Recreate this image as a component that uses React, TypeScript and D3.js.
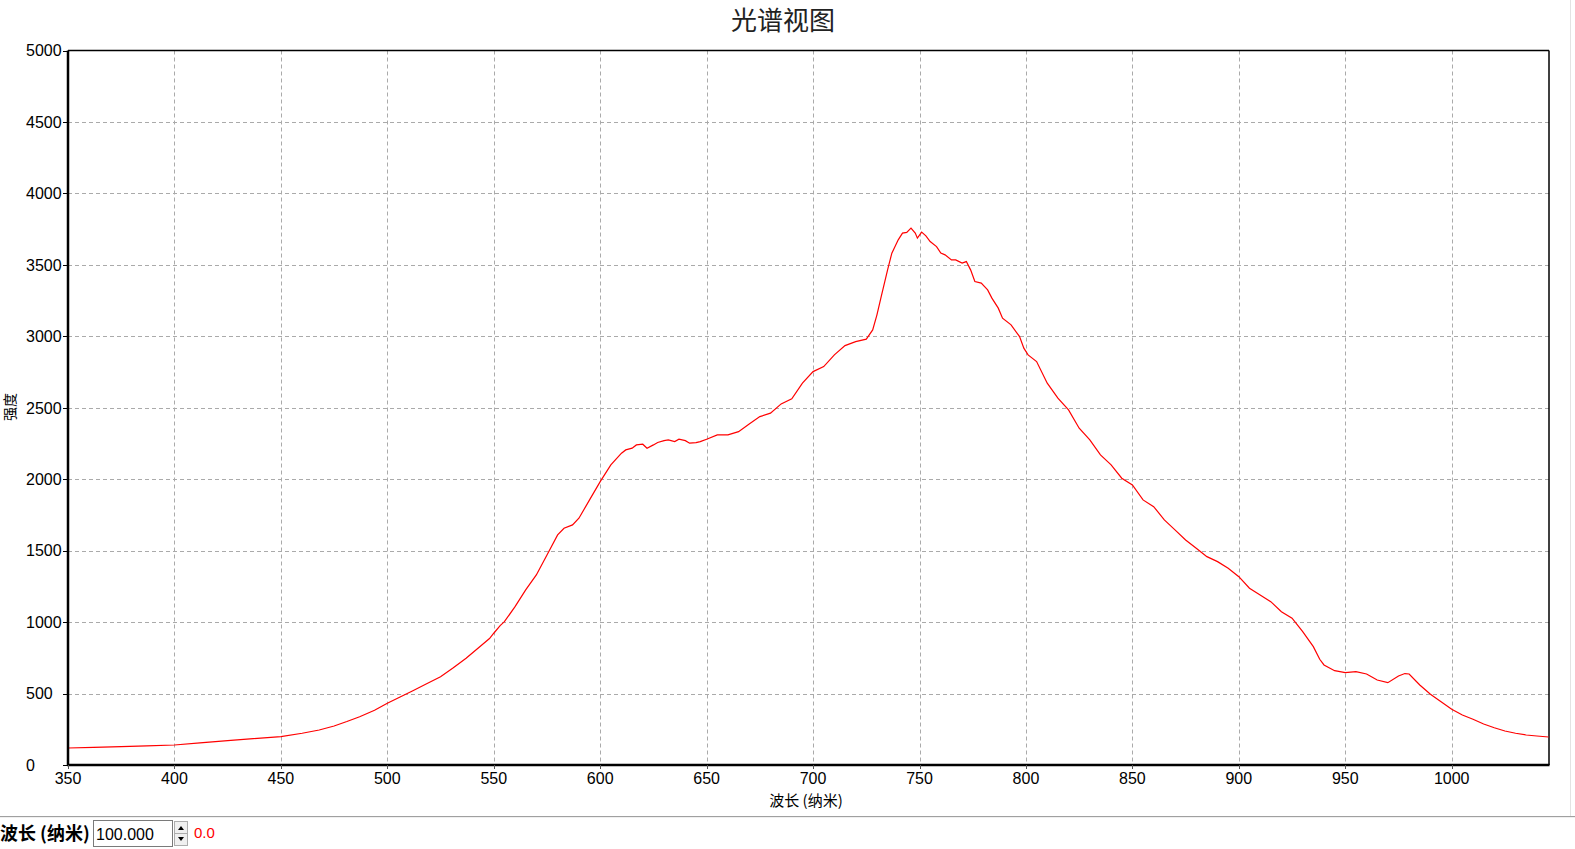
import React from "react";
import * as d3 from "d3";

const wavelengths = [
  350, 362, 375, 387, 400, 412, 425, 437, 450, 460, 468, 475, 481, 487, 494, 500, 506, 512, 518, 525,
  531, 537, 543, 548, 550, 553, 555, 560, 565, 570, 575, 580, 583, 587, 590, 595, 600, 605, 610, 612,
  615, 617, 620, 622, 625, 627, 630, 632, 635, 637, 640, 642, 645, 647, 650, 655, 660, 665, 670, 675,
  680, 685, 690, 695, 700, 705, 710, 715, 720, 725, 728, 730, 732, 735, 737, 740, 742, 744, 746, 748,
  749, 751, 753, 755, 758, 760, 762, 765, 767, 770, 772, 774, 776, 779, 782, 784, 787, 789, 793, 797,
  799, 801, 805, 810, 815, 820, 825, 830, 835, 840, 845, 850, 855, 860, 865, 870, 875, 880, 885, 890,
  895, 900, 905, 910, 915, 920, 925, 930, 935, 938, 940, 945, 950, 955, 960, 965, 970, 975, 978, 980,
  985, 990, 995, 1000, 1005, 1010, 1015, 1020, 1025, 1030, 1035, 1040, 1045.5,
];
const intensities = [
  119, 124, 128, 134, 140, 155, 170, 184, 198, 222, 245, 273, 304, 338, 383, 432, 476, 520, 565, 618,
  680, 747, 822, 885, 922, 975, 1003, 1108, 1225, 1330, 1470, 1610, 1657, 1680, 1727, 1855, 1983, 2100, 2182, 2205,
  2217, 2240, 2245, 2217, 2240, 2257, 2270, 2275, 2263, 2280, 2270, 2252, 2256, 2263, 2280, 2310, 2310, 2333, 2387, 2438,
  2462, 2527, 2562, 2672, 2753, 2788, 2870, 2935, 2963, 2980, 3045, 3150, 3278, 3465, 3582, 3675, 3722, 3727, 3757, 3722,
  3687, 3729, 3703, 3663, 3628, 3582, 3570, 3535, 3535, 3512, 3523, 3465, 3383, 3372, 3325, 3267, 3197, 3127, 3080, 2998,
  2917, 2870, 2823, 2672, 2567, 2485, 2357, 2275, 2170, 2100, 2007, 1960, 1855, 1808, 1715, 1645, 1575, 1517, 1458, 1423,
  1377, 1318, 1237, 1190, 1143, 1073, 1027, 933, 828, 740, 700, 660, 646, 653, 637, 595, 576, 623, 640, 637,
  560, 495, 443, 390, 350, 320, 287, 261, 238, 222, 210, 203, 196,
];
const xTicks = [350, 400, 450, 500, 550, 600, 650, 700, 750, 800, 850, 900, 950, 1000];
const yTicks = [0, 500, 1000, 1500, 2000, 2500, 3000, 3500, 4000, 4500, 5000];

const title = "光谱视图";
const xLabel = "波长 (纳米)";
const yLabel = "强度";

export default function App() {
  const W = 1575, H = 849;
  const L = 68, T = 50.5, R = 1549, B = 765;
  const x = d3.scaleLinear().domain([350, 1045.7]).range([L, R]);
  const y = d3.scaleLinear().domain([0, 5000]).range([B, T]);
  const pts = wavelengths.map((w, i) => [w, intensities[i]] as [number, number]);
  const line = d3.line<[number, number]>().x(d => x(d[0])).y(d => y(d[1]));
  const tickFont = "'Liberation Sans', Arial, sans-serif";
  const cjk = "'Noto Sans CJK SC', sans-serif";

  return (
    <svg width={W} height={H} style={{ position: "absolute", left: 0, top: 0, background: "#fff" }}>
      <rect x={0} y={0} width={W} height={H} fill="#fff" />
      <text x={783} y={30} textAnchor="middle" fontFamily={cjk} fontSize={26} fill="#222">{title}</text>
      {/* grid */}
      {xTicks.filter(t => t !== 350).map(t => (
        <line key={"gx" + t} x1={Math.round(x(t)) + 0.5} x2={Math.round(x(t)) + 0.5} y1={T} y2={B}
          stroke="#aaaaaa" strokeDasharray="4,3" />
      ))}
      {yTicks.filter(t => t !== 0 && t !== 5000).map(t => (
        <line key={"gy" + t} x1={L} x2={R} y1={Math.round(y(t)) + 0.5} y2={Math.round(y(t)) + 0.5}
          stroke="#aaaaaa" strokeDasharray="4,3" />
      ))}
      {/* frame */}
      <line x1={L} x2={R} y1={T} y2={T} stroke="#000" strokeWidth={1.5} />
      <line x1={R} x2={R} y1={T} y2={B} stroke="#000" strokeWidth={1.5} />
      {/* data */}
      <path d={line(pts) || ""} fill="none" stroke="#ff0000" strokeWidth={1.2} />
      <line x1={L} x2={L} y1={T} y2={B + 1} stroke="#000" strokeWidth={2.5} />
      <line x1={L - 1} x2={R + 0.5} y1={B} y2={B} stroke="#000" strokeWidth={2.5} />
      {/* y ticks */}
      {yTicks.map(t => (
        <g key={"yt" + t}>
          <line x1={L - 5} x2={L} y1={Math.round(y(t)) + 0.5} y2={Math.round(y(t)) + 0.5} stroke="#000" />
          <text x={26} y={y(t)} dy="0.36em" textAnchor="start" fontFamily={tickFont} fontSize={16} fill="#000">{t}</text>
        </g>
      ))}
      {/* x ticks */}
      {xTicks.map(t => (
        <g key={"xt" + t}>
          <line x1={Math.round(x(t)) + 0.5} x2={Math.round(x(t)) + 0.5} y1={B} y2={B + 4} stroke="#555" />
          <text x={x(t)} y={784} textAnchor="middle" fontFamily={tickFont} fontSize={16} fill="#000">{t}</text>
        </g>
      ))}
      <text x={806} y={806} textAnchor="middle" fontFamily={cjk} fontSize={15} fill="#000">{xLabel}</text>
      <text transform="translate(15,407) rotate(-90)" textAnchor="middle" fontFamily={cjk} fontSize={14} fill="#000">{yLabel}</text>
      {/* right edge and bottom panel */}
      <line x1={1570.5} x2={1570.5} y1={0} y2={816} stroke="#e3e3e3" />
      <line x1={0} x2={W} y1={816.5} y2={816.5} stroke="#a0a0a0" />
      <line x1={0} x2={W} y1={817.5} y2={817.5} stroke="#f0f0f0" />
      <text x={0} y={840} fontFamily={cjk} fontSize={18} fontWeight="bold" fill="#000">{xLabel}</text>
      <rect x={93.5} y={820.5} width={79} height={26} fill="#fff" stroke="#7a7a7a" />
      <text x={96} y={840} fontFamily={tickFont} fontSize={16} fill="#000">100.000</text>
      <rect x={174.5} y={821.5} width={13} height={12} fill="#f0f0f0" stroke="#adadad" />
      <rect x={174.5} y={833.5} width={13} height={12} fill="#f0f0f0" stroke="#adadad" />
      <path d="M178,830 L181,826 L184,830 Z" fill="#000" />
      <path d="M178,837 L181,841 L184,837 Z" fill="#000" />
      <text x={194} y={838} fontFamily={tickFont} fontSize={15} fill="#ff0000">0.0</text>
    </svg>
  );
}
